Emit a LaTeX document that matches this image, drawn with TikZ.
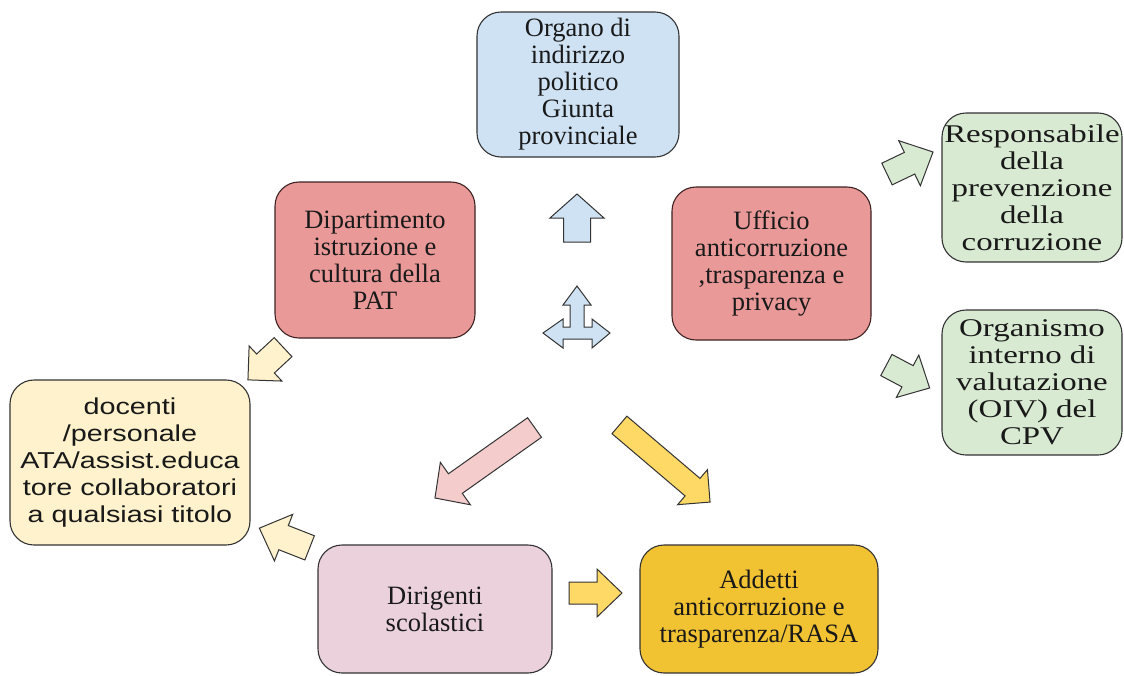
\documentclass[tikz,border=0pt]{standalone}
\usepackage{fontspec}
\setmainfont{Liberation Serif}
\newfontfamily\serifwide{Liberation Serif}[FakeStretch=1.29]
\newfontfamily\sanswide{Liberation Sans}[FakeStretch=1.25]
\definecolor{cblue}{HTML}{CFE2F3}
\definecolor{cred}{HTML}{EA9999}
\definecolor{cgreen}{HTML}{D9EAD3}
\definecolor{cyel}{HTML}{FFF2CC}
\definecolor{cmag}{HTML}{EAD1DC}
\definecolor{cgold}{HTML}{F1C232}
\definecolor{cyel1}{HTML}{FFD966}
\definecolor{cpink}{HTML}{F4CCCC}
\definecolor{edge}{HTML}{333333}
\definecolor{redge}{HTML}{3D2222}
\newcommand{\blockarr}[8]{%
  % #1 fill, #2 center, #3 angle, #4 length, #5 shaft half, #6 head half, #7 head length, #8 name
  \begin{scope}[shift={(#2)}, rotate=#3]
    \coordinate (#8) at (0,0);
    \draw[arrshape, fill=#1] ({-#4/2},{-#5}) -- ({#4/2-#7},{-#5}) -- ({#4/2-#7},{-#6})
      -- ({#4/2},0) -- ({#4/2-#7},{#6}) -- ({#4/2-#7},{#5}) -- ({-#4/2},{#5}) -- cycle;
  \end{scope}}
\begin{document}
\begin{tikzpicture}[x=1pt,y=-1pt,
  box/.style={draw=edge, line width=1.1pt, rounded corners=24pt, align=center,
    inner sep=0pt, text=black!90, font=\fontsize{26.5}{27}\selectfont},
  redbox/.style={box, draw=redge, fill=cred},
  greenbox/.style={box, fill=cgreen, font=\serifwide\fontsize{25.5}{27}\selectfont},
  arrshape/.style={draw=edge, line width=1pt, line join=miter}]
\useasboundingbox (0,0) rectangle (1124,675);
\fill[white] (0,0) rectangle (1124,675);

\node[box, fill=cblue, minimum width=202pt, minimum height=145pt] (organo) at (578,84.5)
  {Organo di\\indirizzo\\politico\\Giunta\\provinciale};
\node[redbox, minimum width=200pt, minimum height=156pt] (dip) at (375,260)
  {Dipartimento\\istruzione e\\cultura della\\PAT};
\node[redbox, minimum width=199pt, minimum height=153pt] (uff) at (771.5,263.5)
  {Ufficio\\anticorruzione\\,trasparenza e\\privacy};
\node[greenbox, minimum width=180pt, minimum height=149pt] (resp) at (1032,187.5)
  {Responsabile\\della\\prevenzione\\della\\corruzione};
\node[greenbox, minimum width=180pt, minimum height=145pt] (oiv) at (1032,382.5)
  {Organismo\\interno di\\valutazione\\(OIV) del\\CPV};
\node[box, fill=cyel, minimum width=240pt, minimum height=165pt,
  font=\sanswide\fontsize{23}{27}\selectfont] (doc) at (130,462.5)
  {docenti\\/personale\\ATA/assist.educa\\tore collaboratori\\a qualsiasi titolo};
\node[box, fill=cmag, minimum width=234pt, minimum height=128pt] (dir) at (435,609)
  {Dirigenti\\scolastici};
\node[box, fill=cgold, minimum width=238pt, minimum height=128pt] (add) at (759,609)
  {Addetti\\anticorruzione e\\trasparenza/RASA};

% block arrows
\blockarr{cblue}{577,218}{90}{48}{13.5}{27}{24}{aup}
\blockarr{cyel}{265.5,363.5}{223}{48}{13}{24}{24}{adoc1}
\blockarr{cyel}{284.5,538}{158.6}{54}{13}{25}{26}{adoc2}
\blockarr{cpink}{484.75,462.75}{215.3}{122}{12}{26}{25}{apink}
\blockarr{cyel1}{664.75,463.5}{-40.4}{119}{11.5}{23}{23}{ayel}
\blockarr{cyel1}{595.5,593}{0}{53}{11}{24}{25}{aright}
\blockarr{cgreen}{910,163}{25.6}{51}{12}{25}{26}{agr1}
\blockarr{cgreen}{908,376.5}{-27.9}{49}{12}{24}{25}{agr2}

% three-way arrow
\draw[arrshape, fill=cblue] (577,286) -- (591,305) -- (584,305) -- (584,327) -- (592,327)
  -- (592,319) -- (610,333) -- (592,348) -- (592,339) -- (563,339) -- (563,348)
  -- (543,333) -- (563,319) -- (563,327) -- (570,327) -- (570,305) -- (563,305) -- cycle;
\end{tikzpicture}
\end{document}
